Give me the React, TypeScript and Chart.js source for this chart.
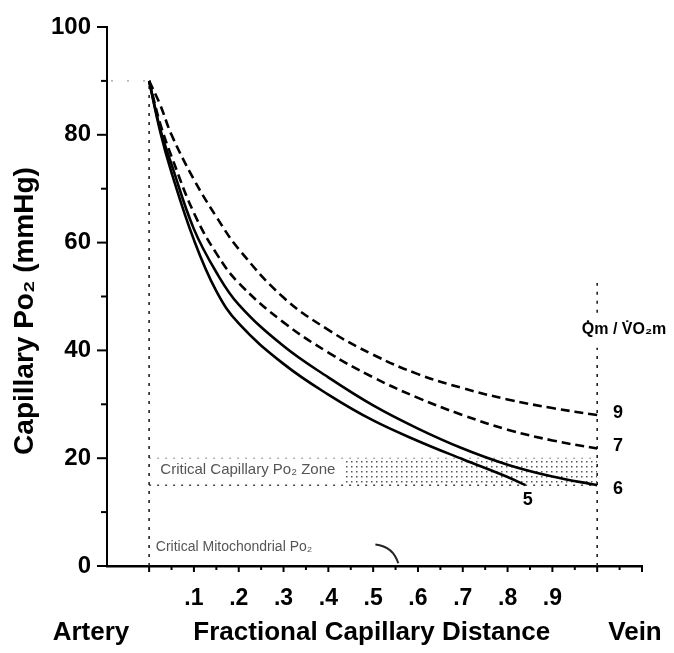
import React, { useEffect, useRef } from "react";
import { Chart, registerables } from "chart.js";

Chart.register(...registerables);

// ---- data ----
const distance = [0, 0.025, 0.05, 0.1, 0.15, 0.2, 0.3, 0.4, 0.5, 0.6, 0.7, 0.8, 0.9, 1.0];
const po2Ratio9 = [90, 85.5, 80, 71.7, 64.8, 58.8, 49.8, 43.8, 39.2, 35.6, 33, 30.9, 29.3, 28];
const po2Ratio7 = [90, 82, 76, 65.5, 58, 52.5, 45.2, 39.6, 35, 31.2, 28, 25.3, 23.3, 21.8];
const po2Ratio6 = [90, 81, 74.5, 62.5, 54.5, 48.5, 40.8, 35, 29.8, 25.5, 21.8, 18.8, 16.6, 15];
const distance5 = [0, 0.025, 0.05, 0.1, 0.15, 0.2, 0.3, 0.4, 0.5, 0.6, 0.7, 0.8, 0.84];
const po2Ratio5 = [90, 80.5, 73, 60.5, 51, 45, 37.5, 31.8, 27, 23.2, 19.8, 16.5, 15];

const curveLabels = ["9", "7", "6", "5"];
const yTickValues = [0, 10, 20, 30, 40, 50, 60, 70, 80, 90, 100];
const xTickValues = [0, 0.05, 0.1, 0.15, 0.2, 0.25, 0.3, 0.35, 0.4, 0.45, 0.5, 0.55, 0.6, 0.65, 0.7, 0.75, 0.8, 0.85, 0.9, 0.95, 1.0, 1.05, 1.1];
const xLabelValues = [0.1, 0.2, 0.3, 0.4, 0.5, 0.6, 0.7, 0.8, 0.9];

const criticalZone = [15, 20];
const criticalMitoPo2 = 0.5;
const arteryPo2 = 90;

const FONT = "'Liberation Sans', Arial, Helvetica, sans-serif";

function pts(xs: number[], ys: number[]) {
  return xs.map((x, i) => ({ x, y: ys[i] }));
}

const annotationPlugin = {
  id: "annot",
  beforeDatasetsDraw(chart: any) {
    const { ctx } = chart;
    const xs = chart.scales.x;
    const ys = chart.scales.y;
    const X = (v: number) => xs.getPixelForValue(v);
    const Y = (v: number) => ys.getPixelForValue(v);
    ctx.save();
    // critical capillary zone
    ctx.font = `15px ${FONT}`;
    ctx.fillStyle = "#555";
    ctx.textBaseline = "middle";
    ctx.textAlign = "left";
    const label = "Critical Capillary Po\u2082 Zone";
    const tx = X(0.025);
    ctx.fillText(label, tx, Y((criticalZone[0] + criticalZone[1]) / 2 + 0.4));
    const tEnd = tx + ctx.measureText(label).width + 8;
    const pc = document.createElement("canvas");
    pc.width = 5;
    pc.height = 5;
    const pctx = pc.getContext("2d")!;
    pctx.fillStyle = "#555";
    pctx.fillRect(1, 1, 1.5, 1.5);
    ctx.fillStyle = ctx.createPattern(pc, "repeat");
    ctx.fillRect(tEnd, Y(criticalZone[1]), X(1) - tEnd, Y(criticalZone[0]) - Y(criticalZone[1]));
    ctx.strokeStyle = "#444";
    ctx.lineWidth = 1.5;
    ctx.setLineDash([2, 6]);
    ctx.beginPath();
    ctx.moveTo(X(0), Y(criticalZone[0]));
    ctx.lineTo(X(1), Y(criticalZone[0]));
    ctx.stroke();
    ctx.strokeStyle = "#888";
    ctx.lineWidth = 1;
    ctx.beginPath();
    ctx.moveTo(X(0), Y(criticalZone[1]));
    ctx.lineTo(X(1), Y(criticalZone[1]));
    ctx.stroke();

    // artery dashed vertical
    ctx.strokeStyle = "#222";
    ctx.lineWidth = 1.6;
    ctx.setLineDash([3, 6]);
    ctx.beginPath();
    ctx.moveTo(X(0), Y(0));
    ctx.lineTo(X(0), Y(arteryPo2));
    ctx.stroke();
    // faint dotted at 90
    ctx.strokeStyle = "#888";
    ctx.lineWidth = 1;
    ctx.setLineDash([2, 14]);
    ctx.beginPath();
    ctx.moveTo(xs.left + 4, Y(arteryPo2));
    ctx.lineTo(X(0), Y(arteryPo2));
    ctx.stroke();
    // vein dashed vertical (with gap for label)
    ctx.strokeStyle = "#222";
    ctx.lineWidth = 1.6;
    ctx.setLineDash([3, 6]);
    ctx.beginPath();
    ctx.moveTo(X(1), Y(0));
    ctx.lineTo(X(1), Y(40.5));
    ctx.moveTo(X(1), Y(47));
    ctx.lineTo(X(1), Y(52.5));
    ctx.stroke();
    ctx.restore();
  },
  afterDraw(chart: any) {
    const { ctx } = chart;
    const xs = chart.scales.x;
    const ys = chart.scales.y;
    const X = (v: number) => xs.getPixelForValue(v);
    const Y = (v: number) => ys.getPixelForValue(v);
    ctx.save();
    ctx.setLineDash([]);
    ctx.strokeStyle = "#000";
    // y ticks
    ctx.lineWidth = 2;
    yTickValues.forEach((v) => {
      const len = v % 20 === 0 ? 10 : 6;
      ctx.beginPath();
      ctx.moveTo(xs.left, Y(v));
      ctx.lineTo(xs.left - len, Y(v));
      ctx.stroke();
    });
    // x ticks
    xTickValues.forEach((v) => {
      const len = Math.round(v * 100) % 10 === 0 ? 6 : 4;
      ctx.beginPath();
      ctx.moveTo(X(v), ys.bottom);
      ctx.lineTo(X(v), ys.bottom + len);
      ctx.stroke();
    });

    // curve labels
    ctx.fillStyle = "#000";
    ctx.font = `bold 18px ${FONT}`;
    ctx.textAlign = "left";
    ctx.textBaseline = "middle";
    ctx.fillText(curveLabels[0], X(1.035), Y(28.4));
    ctx.fillText(curveLabels[1], X(1.035), Y(22.2));
    ctx.fillText(curveLabels[2], X(1.035), Y(14.3));
    ctx.textAlign = "center";
    ctx.fillText(curveLabels[3], X(0.845), Y(12.2));

    // Qm / VO2m
    ctx.font = `bold 16px ${FONT}`;
    ctx.textAlign = "center";
    ctx.fillText("Q\u0307m / V\u0307O\u2082m", X(1.06), Y(43.8));

    // critical mitochondrial Po2
    ctx.font = `14px ${FONT}`;
    ctx.fillStyle = "#555";
    ctx.textAlign = "left";
    ctx.fillText("Critical Mitochondrial Po\u2082", X(0.015), Y(3.5));
    ctx.strokeStyle = "#222";
    ctx.lineWidth = 2;
    ctx.beginPath();
    ctx.moveTo(X(0.505), Y(4));
    ctx.quadraticCurveTo(X(0.545), Y(3.6), X(0.556), Y(criticalMitoPo2));
    ctx.stroke();

    // axis titles
    ctx.fillStyle = "#000";
    ctx.font = `bold 26px ${FONT}`;
    ctx.textAlign = "center";
    ctx.textBaseline = "middle";
    ctx.fillText("Fractional Capillary Distance", X(0.497), 633);
    ctx.fillText("Artery", 91, 633);
    ctx.fillText("Vein", 635, 633);
    ctx.save();
    ctx.translate(25, 311);
    ctx.rotate(-Math.PI / 2);
    ctx.font = `bold 28px ${FONT}`;
    ctx.fillText("Capillary Po\u2082 (mmHg)", 0, 0);
    ctx.restore();
    ctx.restore();
  },
};

export default function App() {
  const ref = useRef<HTMLCanvasElement | null>(null);
  useEffect(() => {
    if (!ref.current) return;
    Chart.defaults.font.family = FONT;
    const lineBase = {
      borderColor: "#000",
      borderWidth: 2.6,
      pointRadius: 0,
      tension: 0.4,
      fill: false,
    };
    const chart = new Chart(ref.current, {
      type: "line",
      data: {
        datasets: [
          { ...lineBase, label: curveLabels[0], data: pts(distance, po2Ratio9), borderDash: [9, 5] },
          { ...lineBase, label: curveLabels[1], data: pts(distance, po2Ratio7), borderDash: [9, 5] },
          { ...lineBase, label: curveLabels[2], data: pts(distance, po2Ratio6) },
          { ...lineBase, label: curveLabels[3], data: pts(distance5, po2Ratio5) },
        ],
      },
      options: {
        animation: false,
        responsive: false,
        devicePixelRatio: 1,
        layout: { padding: { left: 0, top: 27, right: 32, bottom: 0 } },
        plugins: { legend: { display: false }, tooltip: { enabled: false } },
        scales: {
          x: {
            type: "linear",
            min: -0.094,
            max: 1.1,
            afterBuildTicks: (axis: any) => {
              axis.ticks = xLabelValues.map((v) => ({ value: v }));
            },
            afterFit: (axis: any) => {
              axis.height = 87;
            },
            grid: { display: true, drawOnChartArea: false, drawTicks: true, tickLength: 8, color: "transparent" },
            border: { display: true, color: "#000", width: 2.5 },
            ticks: {
              autoSkip: false,
              maxRotation: 0,
              padding: 11,
              color: "#000",
              font: { size: 23, weight: "bold" },
              callback: (v: any) => String(Math.round(Number(v) * 10) / 10).replace(/^0/, ""),
            },
          },
          y: {
            type: "linear",
            min: 0,
            max: 100,
            afterFit: (axis: any) => {
              axis.width = 107;
            },
            grid: { display: true, drawOnChartArea: false, drawTicks: true, tickLength: 10, color: "transparent" },
            border: { display: true, color: "#000", width: 2 },
            ticks: {
              stepSize: 20,
              padding: 6,
              color: "#000",
              font: { size: 24, weight: "bold" },
            },
          },
        },
      },
      plugins: [annotationPlugin],
    });
    return () => chart.destroy();
  }, []);
  return (
    <div style={{ position: "fixed", left: 0, top: 0, width: 674, height: 653, background: "#fff" }}>
      <canvas ref={ref} width={674} height={653} />
    </div>
  );
}
